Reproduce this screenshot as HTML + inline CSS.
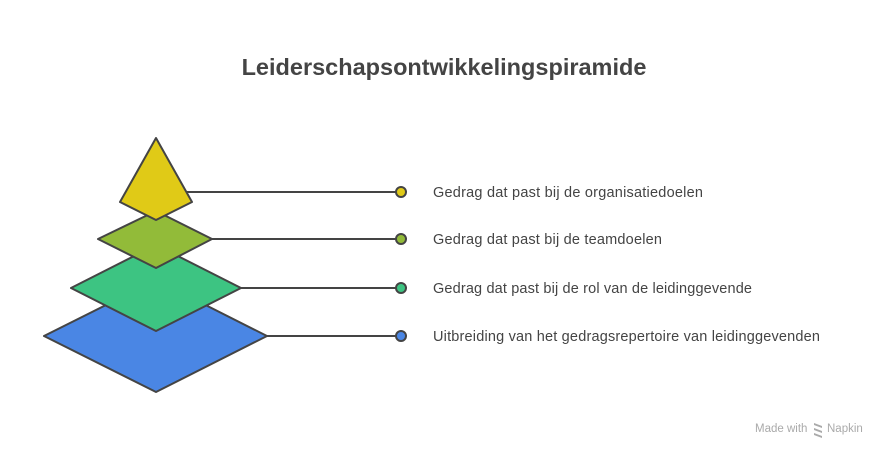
<!DOCTYPE html>
<html><head><meta charset="utf-8"><style>
body{margin:0;background:#fff;}
svg{display:block;}
text{font-family:"Liberation Sans",sans-serif;}
</style></head><body>
<svg width="888" height="456" viewBox="0 0 888 456" xmlns="http://www.w3.org/2000/svg">
<rect width="888" height="456" fill="#fff"/>
<text x="444" y="75" text-anchor="middle" font-size="23.5" font-weight="bold" fill="#444">Leiderschapsontwikkelingspiramide</text>
<g stroke="#444" stroke-width="2" stroke-linejoin="round">
<line x1="260" y1="336" x2="401" y2="336"/>
<line x1="235" y1="288" x2="401" y2="288"/>
<line x1="205" y1="239" x2="401" y2="239"/>
<line x1="186" y1="192" x2="401" y2="192"/>
<polygon points="156,280 267,336 156,392 44,336" fill="#4a86e4"/>
<polygon points="156,245 241,288 156,331 71,288" fill="#3dc482"/>
<polygon points="156,211 212,239 156,268 98,239" fill="#92bb39"/>
<polygon points="156,138 192,202 156,220 120,202" fill="#e0ca17"/>
<circle cx="401" cy="192" r="5" fill="#e0ca17"/>
<circle cx="401" cy="239" r="5" fill="#92bb39"/>
<circle cx="401" cy="288" r="5" fill="#3dc482"/>
<circle cx="401" cy="336" r="5" fill="#4a86e4"/>
</g>
<g font-size="14.5" fill="#444">
<text x="433" y="197" textLength="270">Gedrag dat past bij de organisatiedoelen</text>
<text x="433" y="244" textLength="229">Gedrag dat past bij de teamdoelen</text>
<text x="433" y="293" textLength="319">Gedrag dat past bij de rol van de leidinggevende</text>
<text x="433" y="341" textLength="387">Uitbreiding van het gedragsrepertoire van leidinggevenden</text>
</g>
<text x="755" y="432" font-size="11.5" fill="#aaa">Made with</text>
<g fill="#aaa"><polygon points="814,423 822,426 822,428 814,425"/><polygon points="814,428 822,431 822,433 814,430"/><polygon points="814,433 822,436 822,438 814,435"/></g>
<text x="827" y="432" font-size="11.5" fill="#aaa">Napkin</text>
</svg>
</body></html>
